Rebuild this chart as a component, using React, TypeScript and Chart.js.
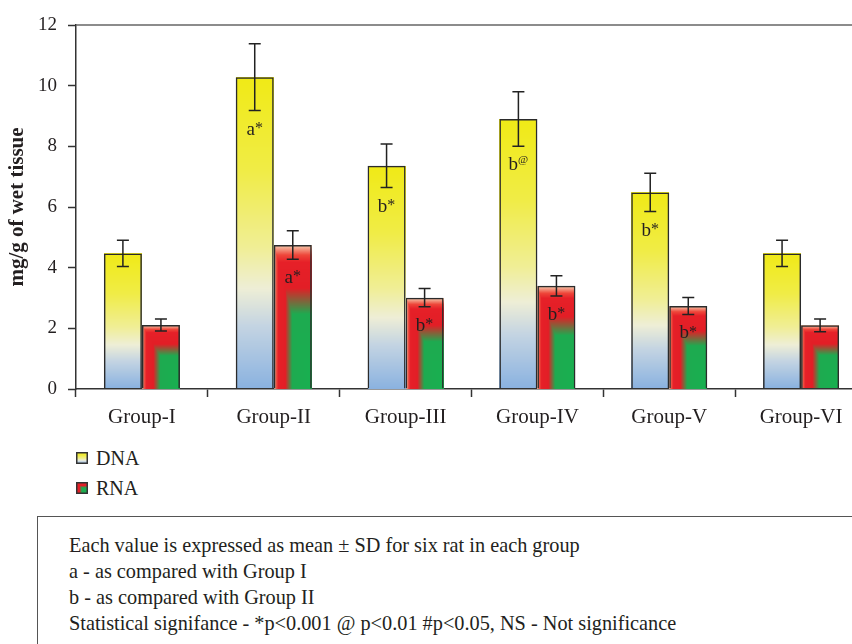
import React, { useEffect, useRef } from "react";
import { Chart, registerables } from "chart.js";

Chart.register(...registerables);

// ---------------- data ----------------
const categories = ["Group-I", "Group-II", "Group-III", "Group-IV", "Group-V", "Group-VI"];
const dnaMeans = [4.47, 10.28, 7.36, 8.9, 6.48, 4.47];
const dnaSD = [0.43, 1.1, 0.72, 0.9, 0.63, 0.43];
const rnaMeans = [2.11, 4.75, 3.01, 3.4, 2.74, 2.1];
const rnaSD = [0.2, 0.47, 0.3, 0.33, 0.28, 0.21];
const dnaMarks = ["", "a*", "b*", "b@", "b*", ""];
const rnaMarks = ["", "a*", "b*", "b*", "b*", ""];
const yTicks = [0, 2, 4, 6, 8, 10, 12];
const seriesNames = ["DNA", "RNA"];
const yTitle = "mg/g of wet tissue";
const noteLines = [
  "Each value is expressed as mean ± SD for six rat in each group",
  "a - as compared with Group I",
  "b - as compared with Group II",
  "Statistical signifance - *p<0.001 @ p<0.01 #p<0.05, NS - Not significance",
];

// ---------------- styles ----------------
const FONT = "'Liberation Serif', 'Times New Roman', serif";
const TEXT = "#231f20";
const AXIS = "#333333";

type Stop = [number, number[]];
const DNA_STOPS: Stop[] = [
  [0.0, [240, 234, 22]],
  [0.3, [240, 236, 70]],
  [0.55, [240, 238, 150]],
  [0.68, [238, 238, 214]],
  [0.8, [196, 212, 226]],
  [1.0, [138, 178, 224]],
];
const RNA_STOPS: Stop[] = [
  [0.0, [246, 208, 178]],
  [0.07, [238, 70, 58]],
  [0.12, [230, 32, 40]],
  [0.3, [226, 30, 38]],
  [0.48, [30, 170, 80]],
  [1.0, [24, 176, 80]],
];

function lerpStops(stops: Stop[], t: number): number[] {
  if (t <= stops[0][0]) return stops[0][1];
  for (let i = 1; i < stops.length; i++) {
    if (t <= stops[i][0]) {
      const [t0, c0] = stops[i - 1];
      const [t1, c1] = stops[i];
      const f = (t - t0) / (t1 - t0);
      return c0.map((c, k) => c + (c1[k] - c) * f);
    }
  }
  return stops[stops.length - 1][1];
}
const dnaColor = (u: number, v: number) => lerpStops(DNA_STOPS, v);
const rnaColor = (u: number, v: number) => lerpStops(RNA_STOPS, Math.min(u, v));
const painters = [dnaColor, rnaColor];

function paintRect(
  ctx: CanvasRenderingContext2D,
  x: number,
  y: number,
  w: number,
  h: number,
  fn: (u: number, v: number) => number[]
) {
  const W = Math.max(1, Math.round(w));
  const H = Math.max(1, Math.round(h));
  const off = document.createElement("canvas");
  off.width = W;
  off.height = H;
  const octx = off.getContext("2d")!;
  const img = octx.createImageData(W, H);
  for (let j = 0; j < H; j++) {
    for (let i = 0; i < W; i++) {
      const c = fn((i + 0.5) / W, (j + 0.5) / H);
      const p = (j * W + i) * 4;
      img.data[p] = c[0];
      img.data[p + 1] = c[1];
      img.data[p + 2] = c[2];
      img.data[p + 3] = 255;
    }
  }
  octx.putImageData(img, 0, 0);
  ctx.drawImage(off, Math.round(x), Math.round(y));
}

const fillPlugin = {
  id: "gradFill",
  beforeDatasetDraw(chart: any, args: any) {
    const ctx = chart.ctx;
    const fn = painters[args.index];
    args.meta.data.forEach((el: any) => {
      const { x, y, base, width } = el.getProps(["x", "y", "base", "width"], true);
      const top = Math.min(y, base);
      const h = Math.abs(base - y);
      paintRect(ctx, x - width / 2, top, width, h, fn);
    });
  },
};

const sds = [dnaSD, rnaSD];
const marks = [dnaMarks, rnaMarks];

const annotatePlugin = {
  id: "annotate",
  afterDatasetsDraw(chart: any) {
    const ctx: CanvasRenderingContext2D = chart.ctx;
    const yScale = chart.scales.y;
    const area = chart.chartArea;
    ctx.save();
    // top frame line
    ctx.strokeStyle = "#666666";
    ctx.lineWidth = 1.5;
    ctx.beginPath();
    ctx.moveTo(area.left, area.top);
    ctx.lineTo(area.right, area.top);
    ctx.stroke();

    chart.data.datasets.forEach((ds: any, di: number) => {
      const meta = chart.getDatasetMeta(di);
      meta.data.forEach((el: any, i: number) => {
        const v = ds.data[i];
        const sd = sds[di][i];
        const x = el.x;
        const yt = yScale.getPixelForValue(v + sd);
        const yb = yScale.getPixelForValue(v - sd);
        ctx.strokeStyle = "#222222";
        ctx.lineWidth = 1.5;
        ctx.beginPath();
        ctx.moveTo(x, yt);
        ctx.lineTo(x, yb);
        ctx.moveTo(x - 6, yt);
        ctx.lineTo(x + 6, yt);
        ctx.moveTo(x - 6, yb);
        ctx.lineTo(x + 6, yb);
        ctx.stroke();

        const m = marks[di][i];
        if (m) {
          const letter = m[0];
          const sym = m.slice(1);
          const cy = yb + 19;
          ctx.fillStyle = TEXT;
          ctx.textBaseline = "middle";
          ctx.textAlign = "left";
          ctx.font = `19px ${FONT}`;
          const lw = ctx.measureText(letter).width;
          let sFont = `16px ${FONT}`;
          let sOff = -1;
          if (sym === "@") {
            sFont = `11px ${FONT}`;
            sOff = -5;
          }
          ctx.font = sFont;
          const sw = ctx.measureText(sym).width;
          const sx = x - (lw + sw) / 2;
          ctx.font = `19px ${FONT}`;
          ctx.fillText(letter, sx, cy);
          ctx.font = sFont;
          ctx.fillText(sym, sx + lw, cy + sOff);
        }
      });
    });
    ctx.restore();
  },
};

function Swatch({ idx }: { idx: number }) {
  const ref = useRef<HTMLCanvasElement>(null);
  useEffect(() => {
    const c = ref.current!;
    const ctx = c.getContext("2d")!;
    ctx.clearRect(0, 0, 12, 12);
    paintRect(ctx, 0, 0, 12, 12, painters[idx]);
    ctx.strokeStyle = AXIS;
    ctx.lineWidth = 1.5;
    ctx.strokeRect(0.75, 0.75, 10.5, 10.5);
  }, [idx]);
  return <canvas ref={ref} width={12} height={12} style={{ display: "block", width: 12, height: 12 }} />;
}

export default function App() {
  const canvasRef = useRef<HTMLCanvasElement>(null);

  useEffect(() => {
    Chart.defaults.font.family = FONT;
    const chart = new Chart(canvasRef.current!, {
      type: "bar",
      data: {
        labels: categories,
        datasets: [
          {
            label: seriesNames[0],
            data: dnaMeans,
            backgroundColor: "rgba(0,0,0,0)",
            borderColor: "#2b2b2b",
            borderWidth: 1.5,
            categoryPercentage: 0.577,
            barPercentage: 1,
          },
          {
            label: seriesNames[1],
            data: rnaMeans,
            backgroundColor: "rgba(0,0,0,0)",
            borderColor: "#2b2b2b",
            borderWidth: 1.5,
            categoryPercentage: 0.577,
            barPercentage: 1,
          },
        ],
      },
      options: {
        responsive: false,
        animation: false,
        layout: { padding: { top: 25, right: 13, left: 0, bottom: 0 } },
        plugins: { legend: { display: false }, tooltip: { enabled: false } },
        scales: {
          x: {
            grid: {
              display: true,
              drawOnChartArea: false,
              drawTicks: true,
              tickLength: 8,
              tickColor: AXIS,
              tickWidth: 1.5,
              offset: true,
            },
            border: { display: true, color: AXIS, width: 1.5 },
            ticks: { color: TEXT, font: { size: 21 }, padding: 8, maxRotation: 0, autoSkip: false },
            afterFit: (s: any) => {
              s.height = 56;
            },
          },
          y: {
            min: yTicks[0],
            max: yTicks[yTicks.length - 1],
            ticks: { stepSize: yTicks[1] - yTicks[0], color: TEXT, font: { size: 19 }, padding: 11 },
            grid: {
              display: true,
              drawOnChartArea: false,
              drawTicks: true,
              tickLength: 8,
              tickColor: AXIS,
              tickWidth: 1.5,
            },
            border: { display: true, color: AXIS, width: 1.5 },
            title: {
              display: true,
              text: yTitle,
              color: TEXT,
              font: { size: 21, weight: "bold" },
              padding: { top: 5, bottom: 0 },
            },
            afterFit: (s: any) => {
              s.width = 76;
            },
          },
        },
      } as any,
      plugins: [fillPlugin, annotatePlugin],
    });
    return () => chart.destroy();
  }, []);

  return (
    <div
      style={{
        position: "absolute",
        left: 0,
        top: 0,
        width: 852,
        height: 644,
        overflow: "hidden",
        background: "#fff",
        fontFamily: FONT,
        color: TEXT,
      }}
    >
      <div style={{ position: "absolute", left: 0, top: 0, width: 880, height: 445 }}>
        <canvas ref={canvasRef} width={880} height={445} style={{ width: 880, height: 445, display: "block" }} />
      </div>
      {seriesNames.map((name, i) => (
        <div
          key={name}
          style={{
            position: "absolute",
            left: 76,
            top: 446 + i * 30,
            height: 24,
            display: "flex",
            alignItems: "center",
            fontSize: 20,
            whiteSpace: "nowrap",
          }}
        >
          <Swatch idx={i} />
          <span style={{ marginLeft: 8, lineHeight: "24px" }}>{name}</span>
        </div>
      ))}
      <div
        style={{
          position: "absolute",
          left: 37,
          top: 516,
          width: 900,
          height: 200,
          border: "1.5px solid #555",
          boxSizing: "border-box",
          paddingLeft: 31,
          paddingTop: 15,
          fontSize: 20.3,
          lineHeight: "26px",
          whiteSpace: "nowrap",
        }}
      >
        {noteLines.map((l) => (
          <div key={l}>{l}</div>
        ))}
      </div>
    </div>
  );
}
